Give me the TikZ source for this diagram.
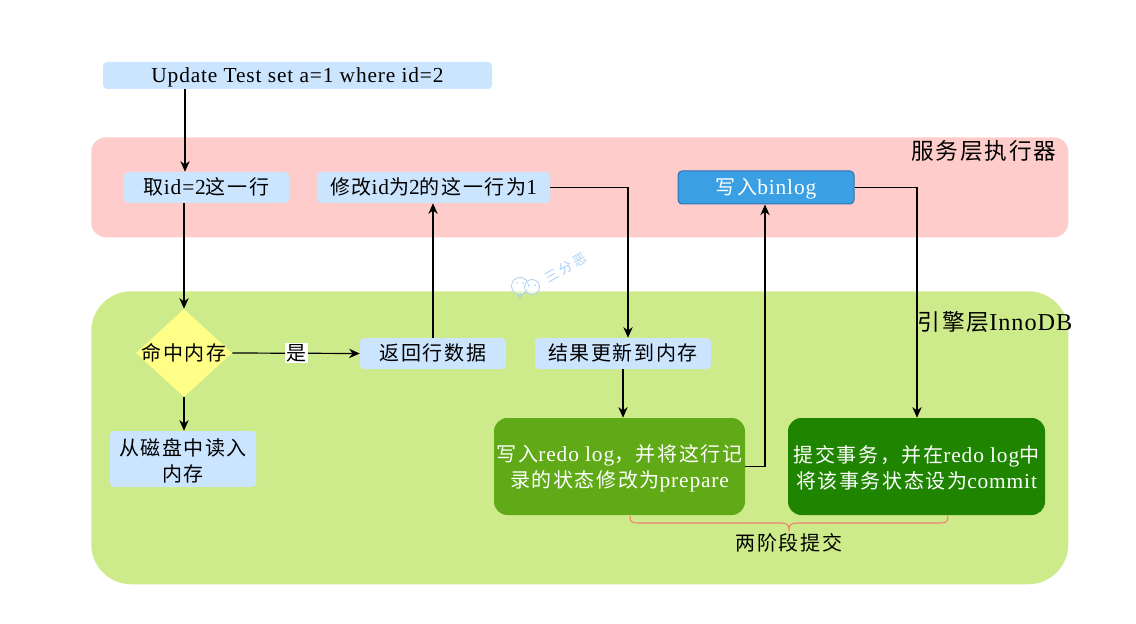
\documentclass[tikz,border=0pt]{standalone}
\usepackage{fontspec}
\setmainfont[LetterSpace=4,Scale=1.07]{Liberation Serif}
\newfontfamily\cjk[LetterSpace=8]{Noto Sans CJK SC}
\newfontfamily\cjkplain{Noto Sans CJK SC}
\newcommand{\zh}[1]{{\cjk #1}}
\usetikzlibrary{arrows.meta,shapes.geometric,decorations.pathreplacing}
\definecolor{lblue}{HTML}{CCE5FF}
\definecolor{lpink}{HTML}{FFCCCC}
\definecolor{lgreen}{HTML}{CDEB8B}
\definecolor{dgreen}{HTML}{60A917}
\definecolor{ddgreen}{HTML}{1F8500}
\definecolor{bbox}{HTML}{3A9FE3}
\definecolor{bline}{HTML}{2F6FB0}
\definecolor{brc}{HTML}{F08070}
\definecolor{wm}{HTML}{A9CFF5}
\definecolor{lyellow}{HTML}{FFFF88}
\tikzset{
  x=0.75pt,y=-0.75pt,
  txt/.style={font=\fontsize{15}{19.5}\selectfont,text=black,inner sep=0pt,align=center},
  oneline/.style={text height=10.5pt,text depth=0pt},
  panel/.style={draw=none,anchor=north west,inner sep=0pt},
  lightbox/.style={txt,fill=lblue,draw=none,rounded corners=3pt,anchor=center},
  conn/.style={draw=black,line width=0.9pt,-{Stealth[length=8pt,width=7pt]}},
}
\begin{document}
\begin{tikzpicture}
\useasboundingbox (0,0) rectangle (1136,624);
% panels
\node[panel,fill=lpink,rounded corners=11pt,minimum width=732.75pt,minimum height=75pt] (svc) at (91,137) {};
\node[panel,fill=lgreen,rounded corners=30pt,minimum width=732.75pt,minimum height=219.75pt] (eng) at (91,291) {};
\node[txt,oneline,font=\fontsize{17}{20}\selectfont] (svclabel) at (984,153) {\zh{服务层执行器}};
\node[txt,oneline,font=\fontsize{17}{20}\selectfont] (englabel) at (995,323) {\zh{引擎层}InnoDB};
% boxes
\node[lightbox,oneline,minimum width=291.75pt,minimum height=20.25pt] (update) at (297.5,75.5) {Update Test set a=1 where id=2};
\node[lightbox,oneline,minimum width=123.75pt,minimum height=23.25pt] (fetch) at (206.5,187.5) {\zh{取}id=2\zh{这一行}};
\node[lightbox,oneline,minimum width=174.75pt,minimum height=23.25pt] (modify) at (433.5,187.5) {\zh{修改}id\zh{为}2\zh{的这一行为}1};
\node[lightbox,oneline,fill=bbox,draw=bline,line width=0.75pt,text=white,minimum width=132pt,minimum height=24.75pt] (binlog) at (766,187.5) {\zh{写入}binlog};
\node[diamond,txt,oneline,fill=lyellow,draw=none,minimum width=72pt,minimum height=66pt,inner sep=0pt] (hit) at (184,353) {\makebox[0pt][c]{\zh{命中内存}}};
\node[lightbox,minimum width=109.5pt,minimum height=42pt] (disk) at (183,459) {\rule{0pt}{15pt}\zh{从磁盘中读入}\\\zh{内存}};
\node[lightbox,oneline,minimum width=109.5pt,minimum height=23.25pt] (ret) at (433,353.5) {\zh{返回行数据}};
\node[lightbox,oneline,minimum width=132pt,minimum height=23.25pt] (res) at (623,353.5) {\zh{结果更新到内存}};
\node[lightbox,fill=dgreen,text=white,rounded corners=10pt,minimum width=188.25pt,minimum height=72.75pt] (redo) at (619.5,466.5) {\rule{0pt}{15pt}\zh{写入}redo log\zh{，并将这行记}\\\zh{录的状态修改为}prepare};
\node[lightbox,fill=ddgreen,text=white,rounded corners=10pt,minimum width=192.75pt,minimum height=72.75pt] (commit) at (916.5,466.5) {\rule{0pt}{15pt}\zh{提交事务，并在}redo log\zh{中}\\\zh{将该事务状态设为}commit};
% column coordinates for connectors
\coordinate (cx) at (185,0);
\coordinate (cm) at (628,0);
\coordinate (cb) at (765,0);
\coordinate (cc) at (917,0);
% connectors
\draw[conn] (update.south -| cx) -- (fetch.north -| cx);
\draw[conn] (fetch.south -| hit.north) -- (hit.north);
\draw[conn] (hit.south) -- (disk.north -| hit.south);
\draw[conn] (hit.east) -- node[fill=white,txt,inner sep=1pt,pos=0.505] (yes) {\zh{是}} (ret.west);
\draw[conn] (ret.north) -- (modify.south -| ret.north);
\draw[conn] (modify.east) -| (res.north -| cm);
\draw[conn] (res.south) -- (redo.north -| res.south);
\draw[conn] (redo.east) -| (binlog.south -| cb);
\draw[conn] (binlog.east) -| (commit.north -| cc);
% brace
\coordinate (bl) at (630,516);
\coordinate (br) at (948,516);
\draw[brc,line width=0.8pt,line cap=round] (bl) .. controls (630,522) and (632,523) .. (638,523) -- (781,523) .. controls (787,523) and (789,525) .. (789,530) .. controls (789,525) and (791,523) .. (797,523) -- (940,523) .. controls (946,523) and (948,522) .. (br);
\node[txt,oneline] (two) at (789,543) {\zh{两阶段提交}};
% watermark
\begin{scope}[wm,line width=0.6pt]
\draw[fill=white,fill opacity=0.4] (520,286) circle[radius=8.5];
\draw (518,294) -- (520,298) -- (523,294);
\draw[fill=white,fill opacity=0.6] (532,287) circle[radius=7.5];
\fill (517,283) circle[radius=0.9] (523,283) circle[radius=0.9] (529,285) circle[radius=0.9] (535,285) circle[radius=0.9];
\node[text=wm,rotate=30,inner sep=0pt,font=\fontsize{10}{12}\selectfont\cjkplain\addfontfeature{LetterSpace=20}] (wmark) at (566,268) {三分恶};
\end{scope}
\end{tikzpicture}
\end{document}
